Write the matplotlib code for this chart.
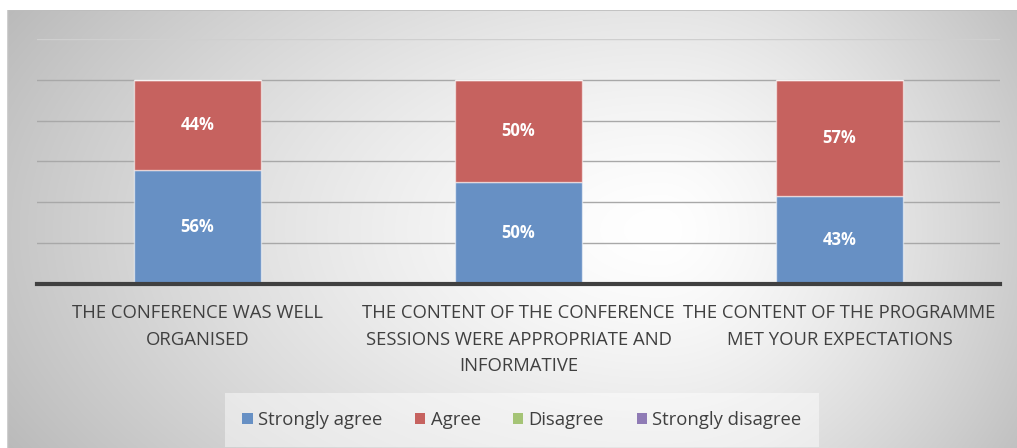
import numpy as np
import matplotlib.pyplot as plt
from matplotlib.patches import Patch

# survey answers, share of respondents
categories = [
    "THE CONFERENCE WAS WELL\nORGANISED",
    "THE CONTENT OF THE CONFERENCE\nSESSIONS WERE APPROPRIATE AND\nINFORMATIVE",
    "THE CONTENT OF THE PROGRAMME\nMET YOUR EXPECTATIONS",
]
series_names = ["Strongly agree", "Agree", "Disagree", "Strongly disagree"]
strongly_agree = [0.56, 0.50, 0.43]
agree = [0.44, 0.50, 0.57]
disagree = [0.0, 0.0, 0.0]
strongly_disagree = [0.0, 0.0, 0.0]

colors = ["#6790c4", "#c6625f", "#a5c476", "#8f7bb5"]

plt.rcParams["font.family"] = ["Open Sans", "DejaVu Sans"]

fig = plt.figure(figsize=(10.17, 4.48), dpi=100)
fig.patch.set_facecolor("white")

# ------------------------------------------------------------
# Gradient background of the chart area
# ------------------------------------------------------------
W, H = 1017, 448
bx0, by0 = 7, 10
bg = fig.add_axes([bx0 / W, 0, 1 - bx0 / W, 1 - by0 / H])
bg.set_axis_off()
xs = np.arange(bx0, W)
ys = np.arange(by0, H)
X, Y = np.meshgrid(xs, ys)
cx, cy = 660, 230
dx = np.where(X < cx, (X - cx) / 650.0, (X - cx) / 390.0)
dy = (Y - cy) / 380.0
r = np.clip(np.sqrt(dx**2 + dy**2), 0, 1.2)
g = 1.0 - 0.22 * r**1.4
img = np.dstack([g, g, g])
bg.imshow(img, aspect="auto", extent=[0, 1, 0, 1], origin="upper")
bg.set_xlim(0, 1)
bg.set_ylim(0, 1)
bg.plot([0, 1], [1, 1], color="#bdbdbd", lw=1.2)
bg.plot([0, 0], [0, 1], color="#cfcfcf", lw=1.0)

# ------------------------------------------------------------
# Stacked bars
# ------------------------------------------------------------
ax = fig.add_axes([37 / W, (H - 284) / H, (1000 - 37) / W, (284 - 39) / H])
ax.patch.set_alpha(0)
x = np.arange(len(categories))
bottom = np.zeros(len(categories))
for name, vals, c in zip(series_names,
                         [strongly_agree, agree, disagree, strongly_disagree],
                         colors):
    vals = np.array(vals)
    bars = ax.bar(x, vals, 0.396, bottom=bottom, color=c,
                  edgecolor=(1, 1, 1, 0.55), linewidth=1.0, zorder=3)
    for b, v in zip(bars, vals):
        if v > 0:
            ax.text(b.get_x() + b.get_width() / 2, b.get_y() + v / 2,
                    f"{v * 100:.0f}%", ha="center", va="center",
                    color="white", fontsize=12, fontweight="bold", zorder=4)
    bottom += vals

ax.set_xlim(-0.5, 2.5)
ax.set_ylim(0, 1.2)
ax.set_yticks(np.arange(0.2, 1.21, 0.2))
ax.yaxis.grid(True, color="#a8a8a8", lw=1.0, zorder=0)
ax.get_ygridlines()[-1].set_color("#cfcfcf")
ax.tick_params(axis="y", left=False, labelleft=False)
ax.tick_params(axis="x", bottom=False, pad=11)
ax.set_xticks(x)
ax.set_xticklabels(categories, fontsize=13.3, color="#404040", linespacing=1.62)
for s in ["top", "right", "left"]:
    ax.spines[s].set_visible(False)
ax.spines["bottom"].set_color("#404040")
ax.spines["bottom"].set_linewidth(3)
ax.spines["bottom"].set_zorder(5)

handles = [Patch(facecolor=c, edgecolor="none") for c in colors]
leg = fig.legend(handles, series_names, loc="center", ncol=4,
                 bbox_to_anchor=(522 / W, (H - 420) / H),
                 fontsize=13.3, frameon=True, handlelength=0.55, handleheight=0.55,
                 handletextpad=0.3, columnspacing=1.75, labelcolor="#404040",
                 borderpad=0.75)
leg.get_frame().set_facecolor("white")
leg.get_frame().set_alpha(0.45)
leg.get_frame().set_edgecolor("none")
leg.get_frame().set_boxstyle("square", pad=0.2)

fig.savefig("out.png", dpi=100)
